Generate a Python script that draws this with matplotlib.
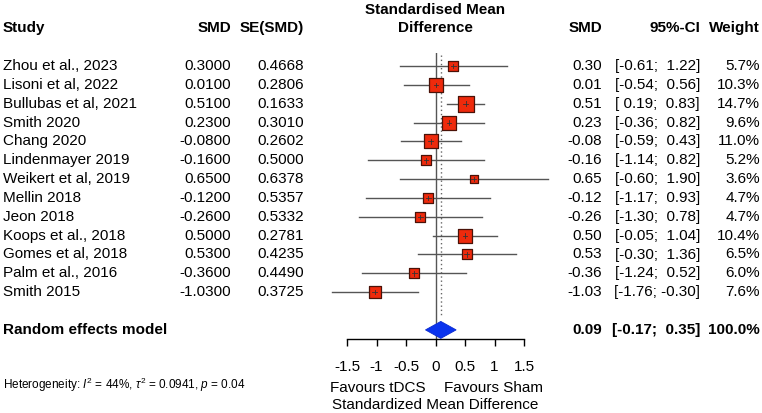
import matplotlib
matplotlib.use("Agg")
import matplotlib.pyplot as plt
import matplotlib.transforms as mtransforms
import numpy as np

plt.rcParams['font.family'] = ['Liberation Sans', 'DejaVu Sans']
plt.rcParams['mathtext.fontset'] = 'custom'
plt.rcParams['mathtext.rm'] = 'Liberation Sans'
plt.rcParams['mathtext.it'] = 'Liberation Sans:italic'

studies = ["Zhou et al., 2023", "Lisoni et al, 2022", "Bullubas et al, 2021", "Smith 2020",
           "Chang 2020", "Lindenmayer 2019", "Weikert et al, 2019", "Mellin 2018",
           "Jeon 2018", "Koops et al., 2018", "Gomes et al, 2018", "Palm et al., 2016",
           "Smith 2015"]
smd = [0.30, 0.01, 0.51, 0.23, -0.08, -0.16, 0.65, -0.12, -0.26, 0.50, 0.53, -0.36, -1.03]
se = [0.4668, 0.2806, 0.1633, 0.3010, 0.2602, 0.5000, 0.6378, 0.5357, 0.5332, 0.2781,
      0.4235, 0.4490, 0.3725]
ci_lo = [-0.61, -0.54, 0.19, -0.36, -0.59, -1.14, -0.60, -1.17, -1.30, -0.05, -0.30, -1.24, -1.76]
ci_hi = [1.22, 0.56, 0.83, 0.82, 0.43, 0.82, 1.90, 0.93, 0.78, 1.04, 1.36, 0.52, -0.30]
weight = [5.7, 10.3, 14.7, 9.6, 11.0, 5.2, 3.6, 4.7, 4.7, 10.4, 6.5, 6.0, 7.6]

pooled = 0.09
pooled_lo = -0.17
pooled_hi = 0.35
ticks = [-1.5, -1, -0.5, 0, 0.5, 1, 1.5]
tick_labels = ["-1.5", "-1", "-0.5", "0", "0.5", "1", "1.5"]

W, H = 762, 413
fig = plt.figure(figsize=(W / 100, H / 100), dpi=100)

# forest axes, placed in pixel terms
x0, x1 = 347.0, 524.0
ytop, ybot = 53.0, 339.0
ax = fig.add_axes([x0 / W, 1 - ybot / H, (x1 - x0) / W, (ybot - ytop) / H])
row_h = 18.85
ax.set_xlim(-1.5, 1.5)
ax.set_ylim((ybot - 66) / row_h, (ytop - 66) / row_h)
for s in ['top', 'left', 'right']:
    ax.spines[s].set_visible(False)
ax.spines['bottom'].set_linewidth(1.0)
ax.set_yticks([])
ax.set_xticks(ticks)
ax.set_xticklabels(tick_labels, fontsize=11)
ax.tick_params(axis='x', length=5, width=1.0, pad=10)
ax.patch.set_alpha(0)

rows = np.arange(len(studies))
pooled_row = len(studies) + 1

# reference lines
ax.axvline(0, color='#555555', lw=1.0, ymin=0, ymax=1)
ax.plot([pooled, pooled], [-0.6, pooled_row - 0.75], color='#666666', lw=1.0, ls=(0, (1, 2)))

# CIs and squares
for i in rows:
    ax.plot([ci_lo[i], ci_hi[i]], [i, i], color='#555555', lw=1.0, clip_on=False, zorder=2)
    side = 4.2 * np.sqrt(weight[i])  # px
    ax.scatter([smd[i]], [i], marker='s', s=(side * 0.72) ** 2, color='#ee2a0c',
               edgecolors='#4a1208', linewidths=0.9, zorder=3, clip_on=False)
    ax.plot([smd[i], smd[i]], [i - 0.12, i + 0.12], color='#333333', lw=0.6, zorder=4)
    ax.plot([smd[i] - 0.04, smd[i] + 0.04], [i, i], color='#333333', lw=0.6, zorder=4)

# diamond
ax.fill([pooled_lo, pooled, pooled_hi, pooled], [pooled_row, pooled_row - 0.45, pooled_row, pooled_row + 0.45],
        color='#0a33ee', edgecolor='#0a2ad0', lw=0.6, zorder=3, clip_on=False)

tr = mtransforms.blended_transform_factory(fig.transFigure, ax.transData)
def fx(px):
    return px / W

fs = 11
y_head = (28 - 66) / row_h
ax.text(fx(3), y_head, "Study", transform=tr, fontsize=fs, fontweight='bold', va='center', ha='left')
ax.text(fx(231), y_head, "SMD", transform=tr, fontsize=fs, fontweight='bold', va='center', ha='right')
ax.text(fx(304), y_head, "SE(SMD)", transform=tr, fontsize=fs, fontweight='bold', va='center', ha='right')
ax.text(fx(435), (10 - 66) / row_h, "Standardised Mean", transform=tr, fontsize=fs, fontweight='bold', va='center', ha='center')
ax.text(fx(435), y_head, "Difference", transform=tr, fontsize=fs, fontweight='bold', va='center', ha='center')
ax.text(fx(602), y_head, "SMD", transform=tr, fontsize=fs, fontweight='bold', va='center', ha='right')
ax.text(fx(700), y_head, "95%-CI", transform=tr, fontsize=fs, fontweight='bold', va='center', ha='right')
ax.text(fx(760), y_head, "Weight", transform=tr, fontsize=fs, fontweight='bold', va='center', ha='right')

for i in rows:
    ax.text(fx(3), i, studies[i], transform=tr, fontsize=fs, va='center', ha='left')
    ax.text(fx(231), i, f"{smd[i]:.4f}", transform=tr, fontsize=fs, va='center', ha='right')
    ax.text(fx(304), i, f"{se[i]:.4f}", transform=tr, fontsize=fs, va='center', ha='right')
    ax.text(fx(602), i, f"{smd[i]:.2f}", transform=tr, fontsize=fs, va='center', ha='right')
    ax.text(fx(700), i, f"[{ci_lo[i]:5.2f}; {ci_hi[i]:5.2f}]", transform=tr, fontsize=fs, va='center', ha='right')
    ax.text(fx(760), i, f"{weight[i]:.1f}%", transform=tr, fontsize=fs, va='center', ha='right')

ax.text(fx(3), pooled_row, "Random effects model", transform=tr, fontsize=fs, fontweight='bold', va='center', ha='left')
ax.text(fx(602), pooled_row, f"{pooled:.2f}", transform=tr, fontsize=fs, fontweight='bold', va='center', ha='right')
ax.text(fx(700), pooled_row, f"[{pooled_lo:5.2f}; {pooled_hi:5.2f}]", transform=tr, fontsize=fs, fontweight='bold', va='center', ha='right')
ax.text(fx(760), pooled_row, "100.0%", transform=tr, fontsize=fs, fontweight='bold', va='center', ha='right')

fig.text(fx(3), 1 - 385 / H, r"Heterogeneity: $I^2$ = 44%, $\tau^2$ = 0.0941, $p$ = 0.04",
         fontsize=8.5, va='center', ha='left')
fig.text(fx(378), 1 - 388 / H, "Favours tDCS", fontsize=fs, va='center', ha='center')
fig.text(fx(494), 1 - 388 / H, "Favours Sham", fontsize=fs, va='center', ha='center')
fig.text(fx(435), 1 - 405 / H, "Standardized Mean Difference", fontsize=fs, va='center', ha='center')

fig.savefig("out.png", dpi=100)
